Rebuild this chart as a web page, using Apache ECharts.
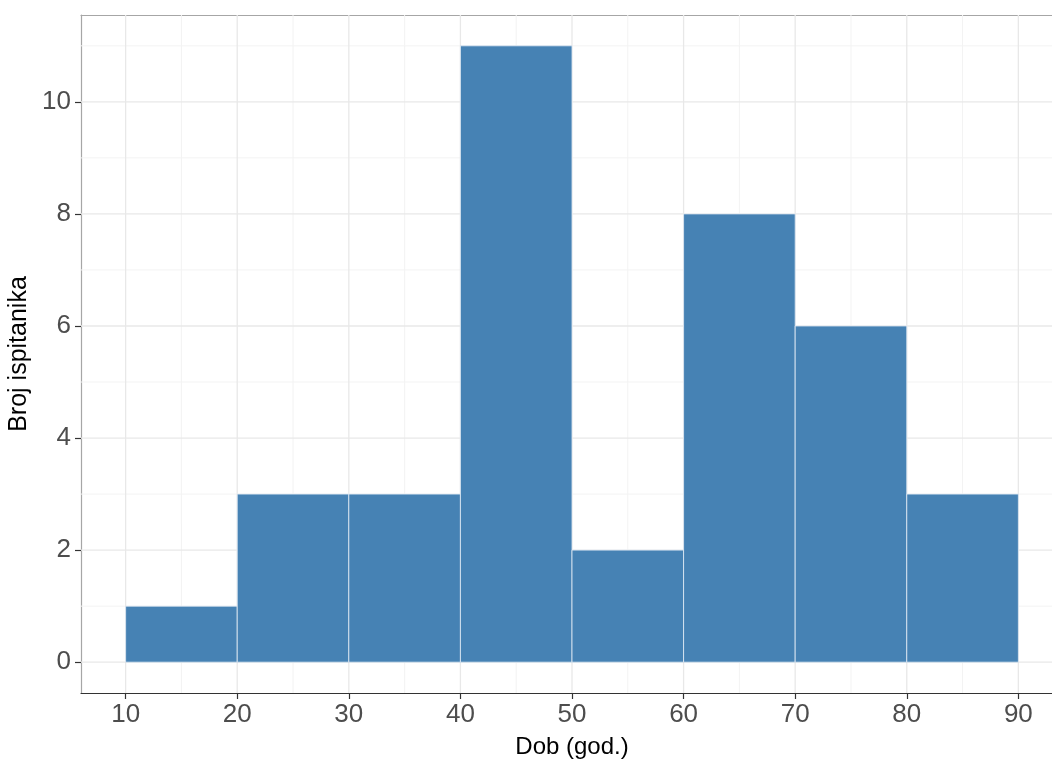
<!DOCTYPE html>
<html>
<head>
<meta charset="utf-8">
<script src="https://cdn.jsdelivr.net/npm/echarts@6/dist/echarts.min.js"></script>
<style>
html,body{margin:0;padding:0;background:#fff;}
#chart{width:1052px;height:763px;}
</style>
</head>
<body>
<div id="chart"></div>
<script>
// Histogram bins (age, years) and counts
const binStarts = [10, 20, 30, 40, 50, 60, 70, 80];
const binEnds   = [20, 30, 40, 50, 60, 70, 80, 90];
const counts    = [1, 3, 3, 11, 2, 8, 6, 3];

// Tick labels
const xTicks = [10, 20, 30, 40, 50, 60, 70, 80, 90];
const yTicks = [0, 2, 4, 6, 8, 10];
const xMinorTicks = [15, 25, 35, 45, 55, 65, 75, 85];
const yMinorTicks = [1, 3, 5, 7, 9, 11];

const xTitle = 'Dob (god.)';
const yTitle = 'Broj ispitanika';

const X_MIN = 6, X_MAX = 94, Y_MIN = -0.55, Y_MAX = 11.55;

const barData = binStarts.map((s, i) => [s, binEnds[i], counts[i]]);
// [direction (0 = vertical line at x, 1 = horizontal line at y), value, major(1)/minor(0)]
const gridData = []
  .concat(xMinorTicks.map(v => [0, v, 0]))
  .concat(yMinorTicks.map(v => [1, v, 0]))
  .concat(xTicks.map(v => [0, v, 1]))
  .concat(yTicks.map(v => [1, v, 1]));

const chart = echarts.init(document.getElementById('chart'), null, {renderer: 'canvas'});
const font = 'Liberation Sans, Arial, sans-serif';

chart.setOption({
  animation: false,
  backgroundColor: '#ffffff',
  grid: {left: 81, right: -11, top: 15, bottom: 70, show: false, containLabel: false, outerBoundsMode: 'none'},
  xAxis: [{
    type: 'value', min: X_MIN, max: X_MAX, position: 'bottom',
    name: xTitle, nameLocation: 'middle', nameGap: 42,
    nameTextStyle: {fontFamily: font, fontSize: 24, color: '#000'},
    axisLine: {show: true, onZero: false, lineStyle: {color: '#333333', width: 1.2}},
    axisTick: {show: true, customValues: xTicks, length: 6, lineStyle: {color: '#333333', width: 1.2}},
    axisLabel: {customValues: xTicks, fontFamily: font, fontSize: 26, color: '#4d4d4d', margin: 9},
    splitLine: {show: false}
  }, {
    type: 'value', min: X_MIN, max: X_MAX, position: 'top',
    axisLine: {show: true, onZero: false, lineStyle: {color: '#a6a6a6', width: 1.2}},
    axisTick: {show: false}, axisLabel: {show: false}, splitLine: {show: false}
  }],
  yAxis: {
    type: 'value', min: Y_MIN, max: Y_MAX,
    name: yTitle, nameLocation: 'middle', nameGap: 42, nameRotate: 90,
    nameTextStyle: {fontFamily: font, fontSize: 25, color: '#000'},
    axisLine: {show: true, onZero: false, lineStyle: {color: '#a6a6a6', width: 1.2}},
    axisTick: {show: true, customValues: yTicks, length: 6, lineStyle: {color: '#333333', width: 1.2}},
    axisLabel: {customValues: yTicks, fontFamily: font, fontSize: 26, color: '#4d4d4d', margin: 10},
    splitLine: {show: false}
  },
  series: [{
    type: 'custom', silent: true, z: 1,
    data: gridData,
    renderItem: function (params, api) {
      const dir = api.value(0), v = api.value(1), major = api.value(2);
      let p1, p2;
      if (dir === 0) { p1 = api.coord([v, Y_MIN]); p2 = api.coord([v, Y_MAX]); }
      else { p1 = api.coord([X_MIN, v]); p2 = api.coord([X_MAX, v]); }
      return {
        type: 'line',
        shape: {x1: p1[0], y1: p1[1], x2: p2[0], y2: p2[1]},
        style: {stroke: major ? '#e8e8e8' : '#f3f3f3', lineWidth: major ? 1.3 : 1}
      };
    },
    encode: {x: 1}
  }, {
    type: 'custom', silent: true, z: 2,
    data: barData,
    renderItem: function (params, api) {
      const p0 = api.coord([api.value(0), 0]);
      const p1 = api.coord([api.value(1), api.value(2)]);
      return {
        type: 'rect',
        shape: {x: p0[0], y: p1[1], width: p1[0] - p0[0], height: p0[1] - p1[1]},
        style: {fill: '#4682b4', stroke: '#e6eef6', lineWidth: 0.8}
      };
    },
    encode: {x: [0, 1], y: 2}
  }]
});
</script>
</body>
</html>
